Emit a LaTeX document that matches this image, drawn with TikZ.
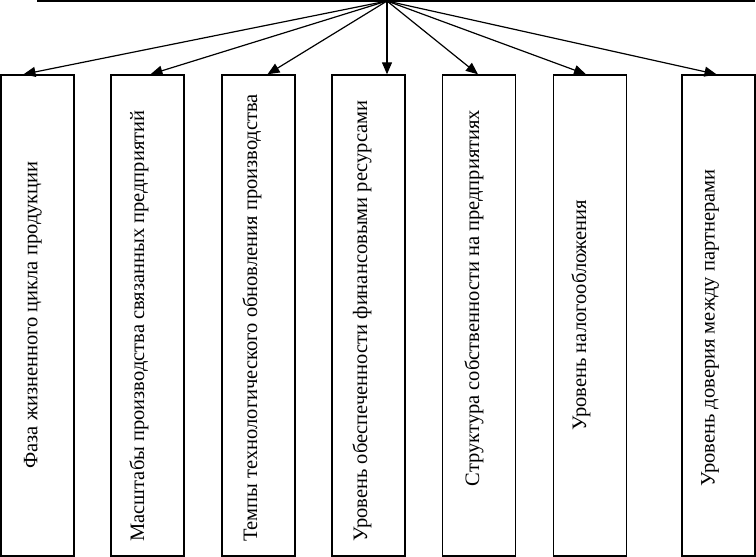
\documentclass[tikz,border=0pt]{standalone}
\usepackage{fontspec}
\setmainfont{Liberation Serif}
\usetikzlibrary{arrows.meta}
\begin{document}
\begin{tikzpicture}[x=1pt,y=-1pt,
  box/.style={draw, line width=1.4pt, rectangle, minimum width=73pt, minimum height=481pt, inner sep=0pt},
  lbl/.style={rotate=90, font=\fontsize{20.5}{24}\selectfont, inner sep=0pt},
  arr/.style={line width=1.2pt, -{Triangle[length=12pt,width=10pt]}}]
\useasboundingbox (0,0) rectangle (756,557);
\coordinate (L) at (37,1);
\coordinate (R) at (755,1);
\coordinate (src) at (387,1);
\draw[line width=1.4pt] (L) -- (R);
\node[box] (b1) at (37.5,315.5) {};
\node[box] (b2) at (147.5,315.5) {};
\node[box] (b3) at (258.5,315.5) {};
\node[box] (b4) at (368.5,315.5) {};
\node[box] (b5) at (479,315.5) {};
\node[box] (b6) at (590,315.5) {};
\node[box] (b7) at (718.5,315.5) {};
\node[lbl] (t1) at (33,315) {Фаза жизненного цикла продукции};
\node[lbl] (t2) at (139,326) {Масштабы производства связанных предприятий};
\node[lbl] (t3) at (252,318) {Темпы технологического обновления производства};
\node[lbl] (t4) at (362,321) {Уровень обеспеченности финансовыми ресурсами};
\node[lbl] (t5) at (474,298) {Структура собственности на предприятиях};
\node[lbl] (t6) at (581,315) {Уровень налогообложения};
\node[lbl] (t7) at (710,328) {Уровень доверия между партнерами};
\draw[arr] (src) -- ([xshift=-14pt]b1.north);
\draw[arr] (src) -- ([xshift=3pt]b2.north);
\draw[arr] (src) -- ([xshift=9pt]b3.north);
\draw[arr] (src) -- ([xshift=18.5pt]b4.north);
\draw[arr] (src) -- ([xshift=-1pt]b5.north);
\draw[arr] (src) -- ([xshift=-4pt]b6.north);
\draw[arr] (src) -- ([xshift=-2pt]b7.north);
\end{tikzpicture}
\end{document}
